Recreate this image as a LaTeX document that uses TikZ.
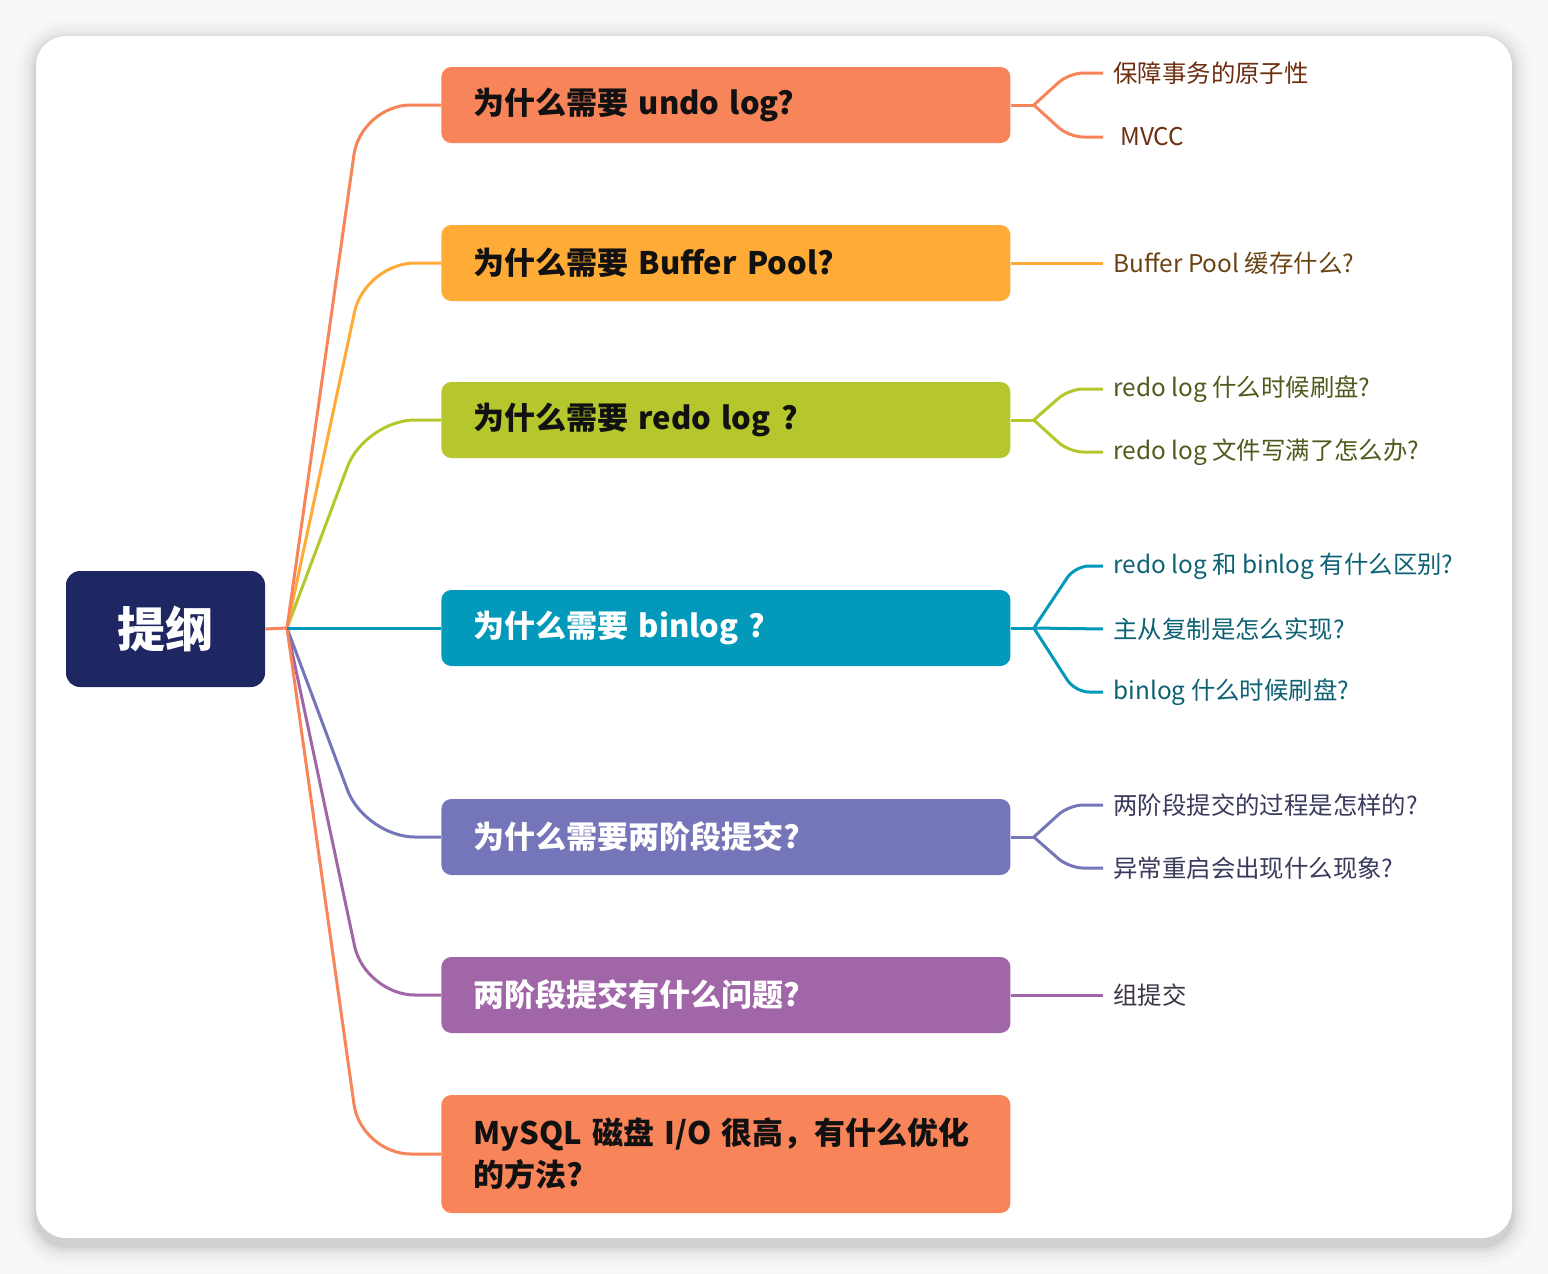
\documentclass[tikz,border=0pt]{standalone}
\usepackage{fontspec}
\setmainfont{Noto Sans CJK SC}
\usetikzlibrary{calc}
\definecolor{bgc}{HTML}{F8F8F8}
\definecolor{cOrange}{HTML}{F8845A}
\definecolor{cYellow}{HTML}{FEAB37}
\definecolor{cLime}{HTML}{B5C72D}
\definecolor{cTeal}{HTML}{0399BA}
\definecolor{cIndigo}{HTML}{7575BA}
\definecolor{cPurple}{HTML}{A166A8}
\definecolor{cNavy}{HTML}{1F2763}
\definecolor{tOrange}{HTML}{6E2E12}
\definecolor{tYellow}{HTML}{6B4313}
\definecolor{tLime}{HTML}{4F5A1D}
\definecolor{tTeal}{HTML}{0D6175}
\definecolor{tIndigo}{HTML}{393A5C}
\definecolor{tPurple}{HTML}{3E3447}
\definecolor{tDark}{HTML}{111111}
\tikzset{
  branch/.style={rounded corners=5pt, minimum height=38pt, inner xsep=16pt,
    text width=252.5pt, align=left, anchor=west,
    font=\fontsize{15.5}{21}\selectfont\bfseries},
  leaf/.style={anchor=west, inner xsep=5pt, inner ysep=0pt,
    font=\fontsize{12.2}{15}\selectfont},
  link/.style={line width=1.5pt, rounded corners=25pt},
  twig/.style={line width=1.5pt, rounded corners=7pt},
}
\begin{document}
\begin{tikzpicture}[x=0.5pt,y=-0.5pt]
\useasboundingbox (0,0) rectangle (1548,1274);
\fill[bgc] (0,0) rectangle (1548,1274);
% shadow
\foreach \d/\o in {20/0.010,16/0.014,12/0.02,8/0.028,5/0.036,2/0.05}{
  \fill[black,opacity=\o,rounded corners={15pt+\d*0.5pt}]
    ({36-\d},{36-\d+4}) rectangle ({1512+\d},{1238+\d+8});
}
\fill[white,rounded corners=15pt] (36,36) rectangle (1512,1238);

% root
\node[fill=cNavy, rounded corners=7pt, minimum width=99.5pt, minimum height=58pt,
  text=white, inner sep=0pt, font=\fontsize{24}{24}\selectfont\bfseries]
  (root) at (165.5,629) {提纲};
\coordinate (j) at (287,628);

% branches
\node[branch, fill=cOrange, text=tDark] (b1) at (441,105) {为什么需要 undo log?};
\node[branch, fill=cYellow, text=tDark] (b2) at (441,263) {为什么需要 Buffer Pool?};
\node[branch, fill=cLime, text=tDark] (b3) at (441,420) {为什么需要 redo log ?};
\node[branch, fill=cTeal, text=white] (b4) at (441,628) {为什么需要 binlog ?};
\node[branch, fill=cIndigo, text=white] (b5) at (441,837) {为什么需要两阶段提交?};
\node[branch, fill=cPurple, text=white] (b6) at (441,995) {两阶段提交有什么问题?};
\node[branch, fill=cOrange, text=tDark, minimum height=59pt] (b7) at (441,1154)
  {\mbox{MySQL 磁盘 I/O 很高，有什么优化}\\\mbox{的方法?}};

% root connectors
\draw[line width=1.5pt,cOrange] (root.east) -- (j);
\draw[link,cPurple] (j) -- ([xshift=-38pt]b6.west) -- (b6.west);
\draw[link,cIndigo] (j) -- ([xshift=-38pt]b5.west) -- (b5.west);
\draw[link,cOrange] (j) -- ([xshift=-40pt]b7.west) -- (b7.west);
\draw[link,cLime] (j) -- ([xshift=-38pt]b3.west) -- (b3.west);
\draw[link,cYellow] (j) -- ([xshift=-38pt]b2.west) -- (b2.west);
\draw[link,cOrange] (j) -- ([xshift=-40pt]b1.west) -- (b1.west);
\draw[line width=1.5pt,cTeal] (j) -- (b4.west);

% leaves
\node[leaf, text=tOrange] (l11) at (1103,73) {保障事务的原子性};
\node[leaf, text=tOrange] (l12) at (1103,137) {\hspace{3.5pt}MVCC};
\node[leaf, text=tYellow] (l21) at (1103,263) {Buffer Pool 缓存什么?};
\node[leaf, text=tLime] (l31) at (1103,389) {redo log 什么时候刷盘?};
\node[leaf, text=tLime] (l32) at (1103,452) {redo log 文件写满了怎么办?};
\node[leaf, text=tTeal] (l41) at (1103,566) {redo log 和 binlog 有什么区别?};
\node[leaf, text=tTeal] (l42) at (1103,629) {主从复制是怎么实现?};
\node[leaf, text=tTeal] (l43) at (1103,692) {binlog 什么时候刷盘?};
\node[leaf, text=tIndigo] (l51) at (1103,805) {两阶段提交的过程是怎样的?};
\node[leaf, text=tIndigo] (l52) at (1103,868) {异常重启会出现什么现象?};
\node[leaf, text=tPurple] (l61) at (1103,995) {组提交};

% forks
\coordinate (f1) at ($(b1.east)+(23,0)$);
\coordinate (f3) at ($(b3.east)+(23,0)$);
\coordinate (f4) at ($(b4.east)+(23,0)$);
\coordinate (f5) at ($(b5.east)+(23,0)$);

\draw[twig,cOrange] (b1.east) -- (f1);
\draw[twig,cOrange] (f1) -- ([xshift=-17pt]l11.west) -- (l11.west);
\draw[twig,cOrange] (f1) -- ([xshift=-17pt]l12.west) -- (l12.west);

\draw[twig,cYellow] (b2.east) -- (l21.west);

\draw[twig,cLime] (b3.east) -- (f3);
\draw[twig,cLime] (f3) -- ([xshift=-17pt]l31.west) -- (l31.west);
\draw[twig,cLime] (f3) -- ([xshift=-17pt]l32.west) -- (l32.west);

\draw[twig,cTeal] (b4.east) -- (f4);
\draw[twig,cTeal] (f4) -- ([xshift=-14pt]l41.west) -- (l41.west);
\draw[twig,cTeal] (f4) -- (l42.west);
\draw[twig,cTeal] (f4) -- ([xshift=-14pt]l43.west) -- (l43.west);

\draw[twig,cIndigo] (b5.east) -- (f5);
\draw[twig,cIndigo] (f5) -- ([xshift=-17pt]l51.west) -- (l51.west);
\draw[twig,cIndigo] (f5) -- ([xshift=-17pt]l52.west) -- (l52.west);

\draw[twig,cPurple] (b6.east) -- (l61.west);
\end{tikzpicture}
\end{document}
